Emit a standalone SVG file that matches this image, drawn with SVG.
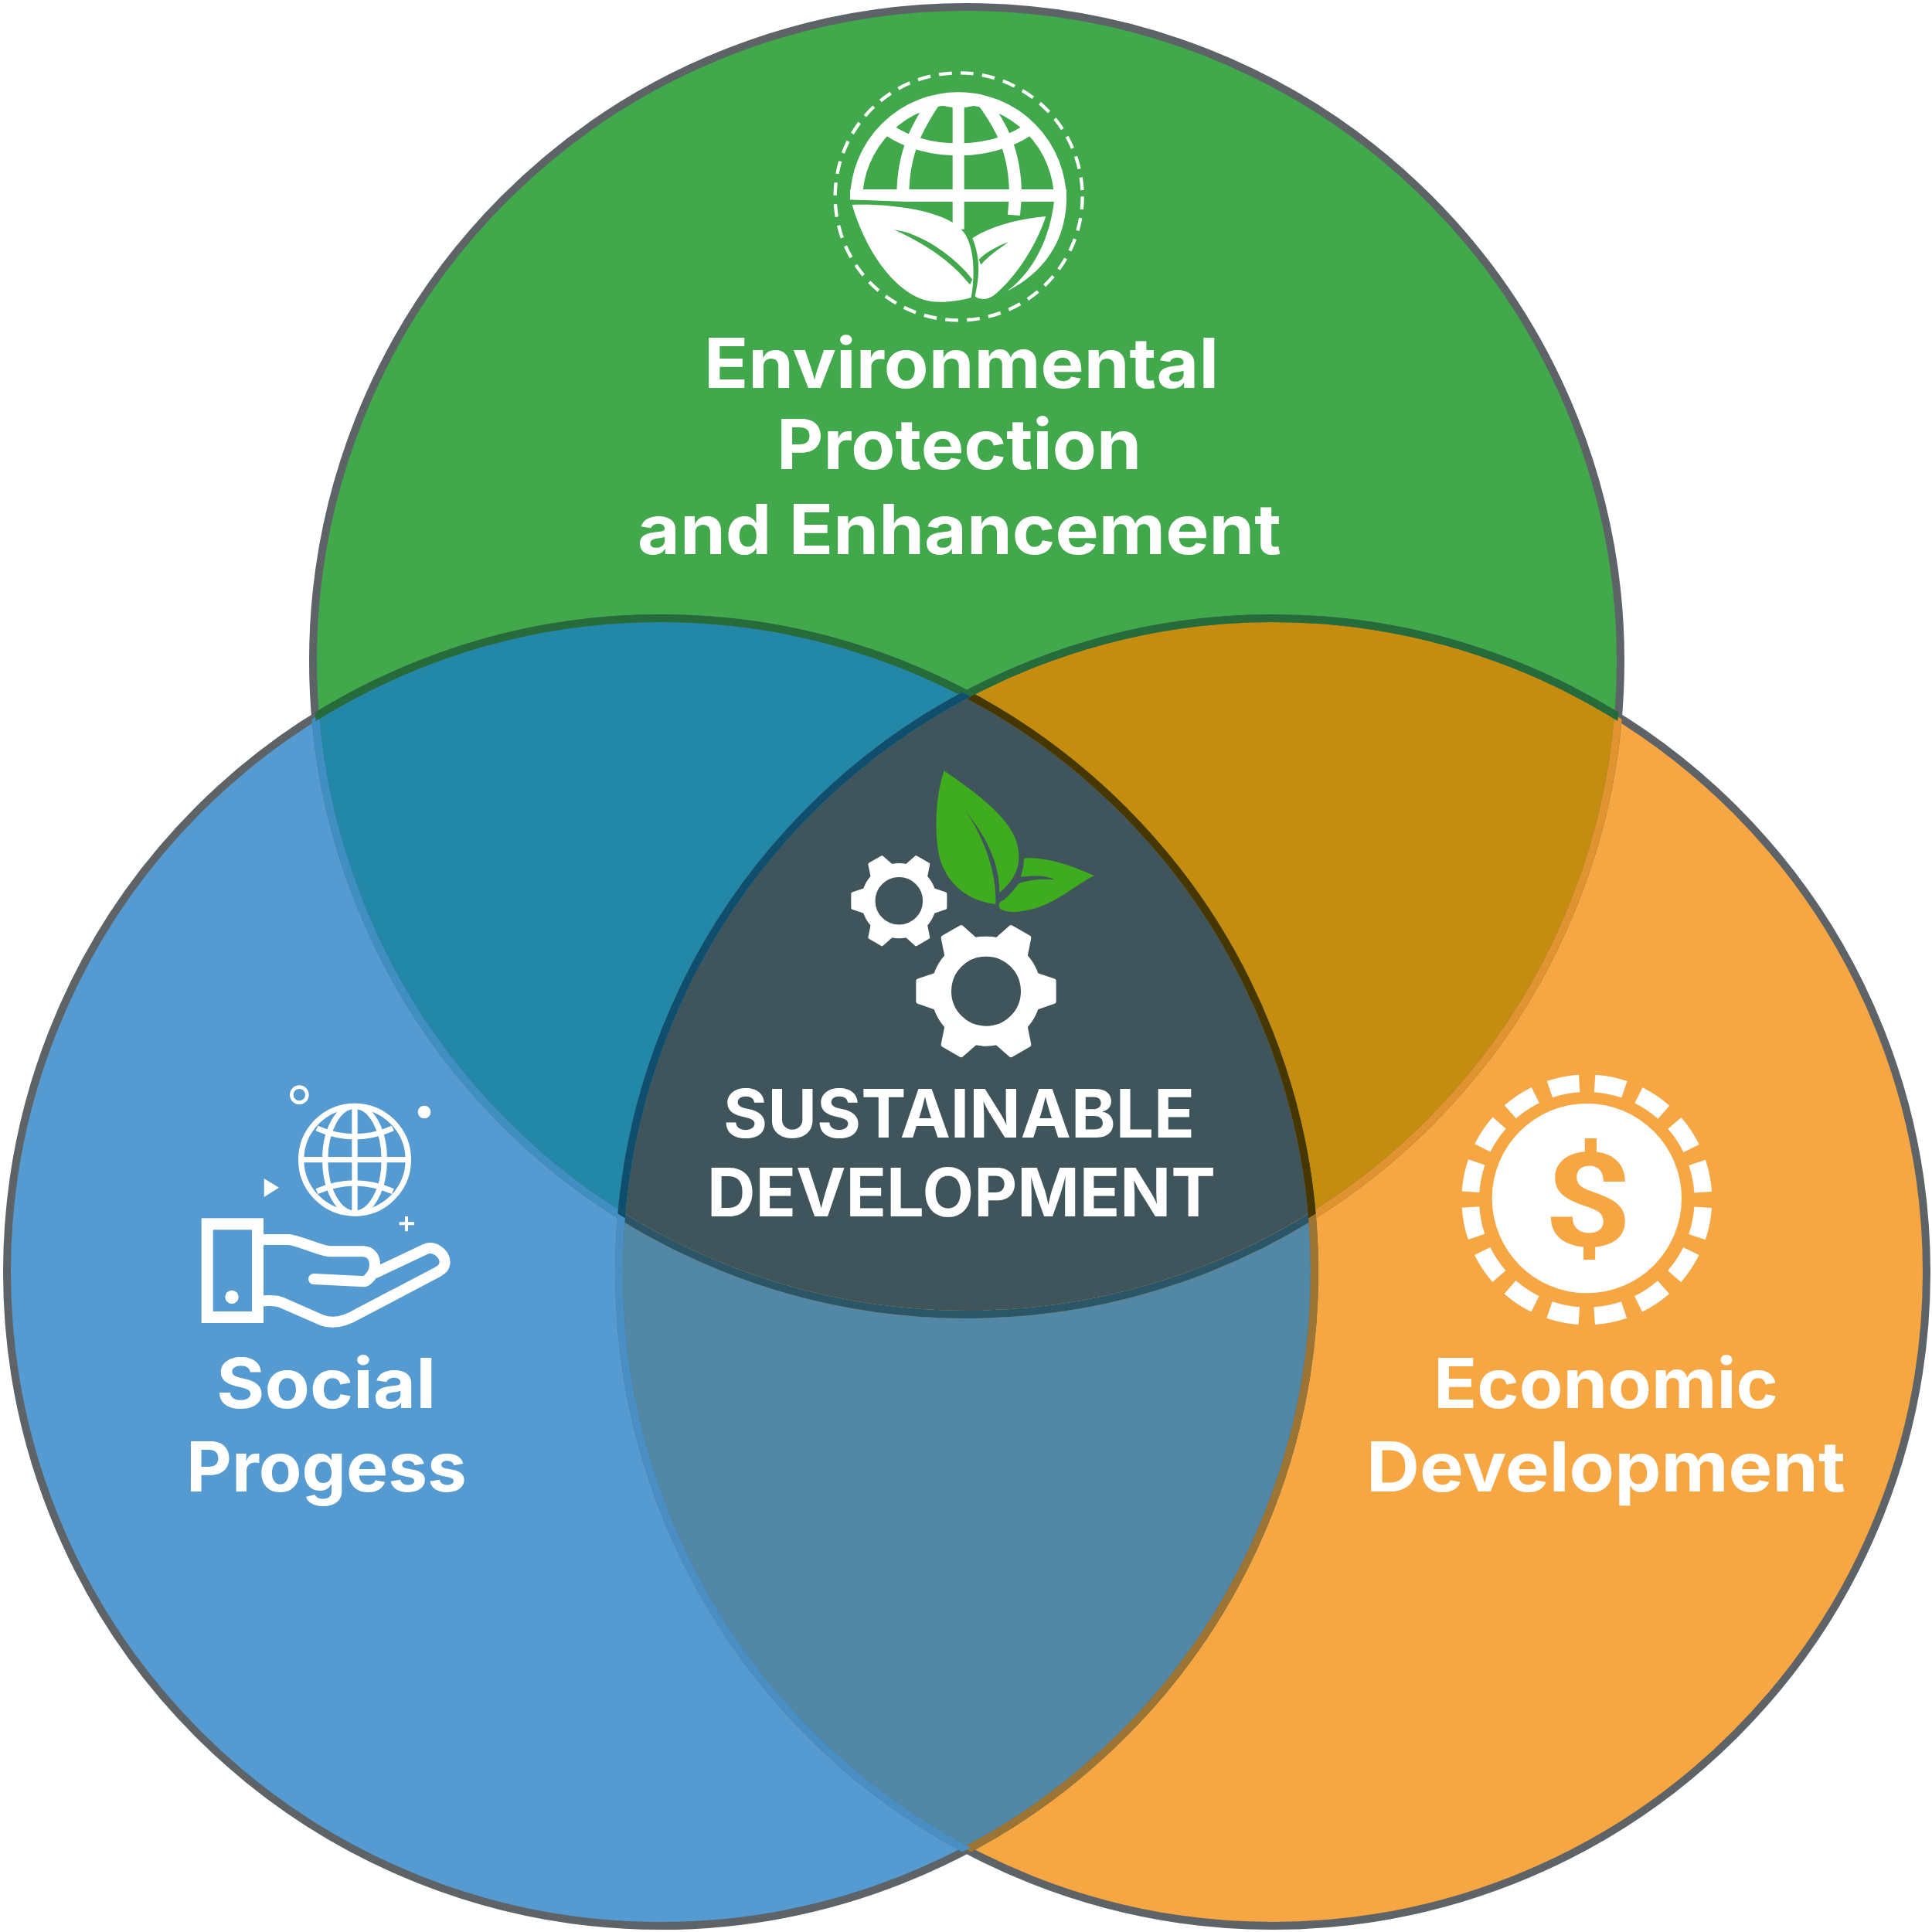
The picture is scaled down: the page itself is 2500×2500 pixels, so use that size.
<svg xmlns="http://www.w3.org/2000/svg" width="2500" height="2500" viewBox="0 0 2500 2500">
<style>
text{font-family:"Inter","Liberation Sans",sans-serif;font-weight:700;fill:#fff}
.t{font-size:89px}
.c{font-size:86px}
.e{fill:none;stroke-width:10}
.w{fill:#fff}
.ws{fill:none;stroke:#fff}
</style>
<defs>
<circle id="cG" cx="1251" cy="855" r="846"/>
<circle id="cB" cx="855" cy="1646" r="846"/>
<circle id="cO" cx="1647" cy="1646" r="846"/>
<clipPath id="inG"><use href="#cG"/></clipPath>
<clipPath id="inB"><use href="#cB"/></clipPath>
<clipPath id="inO"><use href="#cO"/></clipPath>
<g id="gear">
<circle cx="0" cy="0" r="174" fill="none" stroke="#fff" stroke-width="78"/>
<path id="tooth" class="w" stroke="#fff" stroke-width="18" stroke-linejoin="round" d="M198,-62L263,-40L263,40L198,62Z"/>
<use href="#tooth" transform="rotate(60)"/>
<use href="#tooth" transform="rotate(120)"/>
<use href="#tooth" transform="rotate(180)"/>
<use href="#tooth" transform="rotate(240)"/>
<use href="#tooth" transform="rotate(300)"/>
</g>
</defs>

<g id="venn">
<use href="#cB" fill="#559bd1"/>
<use href="#cO" fill="#f6a643"/>
<use href="#cG" fill="#41a84b"/>
<g clip-path="url(#inB)"><use href="#cO" fill="#5287a6"/><use href="#cG" fill="#2387a8"/></g>
<g clip-path="url(#inO)"><use href="#cG" fill="#c48d10"/></g>
<g clip-path="url(#inB)"><g clip-path="url(#inO)"><use href="#cG" fill="#40545c"/></g></g>
</g>

<g id="connectors">
<use href="#cG" class="e" stroke="#5d6366"/>
<use href="#cB" class="e" stroke="#5d6366"/>
<use href="#cO" class="e" stroke="#5d6366"/>
<g clip-path="url(#inB)"><use href="#cG" class="e" stroke="#3f8fc2"/></g>
<g clip-path="url(#inO)"><use href="#cG" class="e" stroke="#e0932e"/></g>
<g clip-path="url(#inB)"><g clip-path="url(#inO)"><use href="#cG" class="e" stroke="#2b5668"/></g></g>
<g clip-path="url(#inG)"><use href="#cB" class="e" stroke="#266c3a"/></g>
<g clip-path="url(#inO)"><use href="#cB" class="e" stroke="#9c7434"/></g>
<g clip-path="url(#inG)"><g clip-path="url(#inO)"><use href="#cB" class="e" stroke="#463600"/></g></g>
<g clip-path="url(#inG)"><use href="#cO" class="e" stroke="#266c3a"/></g>
<g clip-path="url(#inB)"><use href="#cO" class="e" stroke="#4a8fc4"/></g>
<g clip-path="url(#inG)"><g clip-path="url(#inB)"><use href="#cO" class="e" stroke="#0f4e6c"/></g></g>
</g>

<g id="node-environment">
<g transform="translate(1040,60) scale(.33333)">
<circle cx="602" cy="583" r="480" fill="none" stroke="#fff" stroke-width="13" stroke-dasharray="50 34"/>
<path class="ws" stroke-width="48" d="M204,595A396,396 0 1 1 996,600"/>
<path class="w" d="M1020,600C1015,760 930,880 790,950C870,890 950,780 972,602Z"/>
<path class="w" d="M180,555H1020V603H400L180,595Z"/>
<path class="w" d="M505,195H695L690,225L625,238H578L515,225Z"/>
<path d="M330,325C480,425 720,425 870,325" fill="none" stroke="#fff" stroke-width="48"/>
<rect class="w" x="578" y="180" width="45" height="530"/>
<path d="M505,215C450,300 385,400 385,580" fill="none" stroke="#fff" stroke-width="48"/>
<path d="M698,215C760,300 822,400 822,580L816,655" fill="none" stroke="#fff" stroke-width="48"/>
<path d="M188,615C350,610 560,640 620,720C660,770 668,880 650,975C600,990 520,1000 470,985C330,940 230,760 188,615Z" class="w"/>
<path d="M350,712C460,725 590,820 655,905L645,925C570,830 460,760 350,712Z" fill="#41a84b"/>
<path d="M655,745C720,700 830,670 940,660C900,780 820,900 740,965C715,985 680,985 665,970C680,900 690,830 655,745Z" class="w"/>
<path d="M795,760C750,775 700,805 680,828L688,848C715,815 760,785 795,760Z" fill="#41a84b"/>
</g>
<text class="t" x="911" y="502" textLength="666" lengthAdjust="spacingAndGlyphs">Environmental</text>
<text class="t" x="1005" y="607" textLength="472" lengthAdjust="spacingAndGlyphs">Protection</text>
<text class="t" x="825" y="717" textLength="833" lengthAdjust="spacingAndGlyphs">and Enhancement</text>
</g>

<g id="node-center">
<g transform="translate(1060,970) scale(.33333)">
<path fill="#3fab1e" d="M485,82C610,170 775,280 775,410C778,470 745,520 700,555C700,430 640,330 570,240C635,335 690,470 685,600C560,585 475,500 460,380C448,280 455,170 485,82Z"/>
<path fill="#3fab1e" d="M795,422C880,415 980,450 1068,490C1000,520 910,610 800,625C760,635 715,630 700,615C695,600 700,590 715,585C740,565 760,540 775,520C810,505 870,500 915,505C880,488 830,488 782,495C790,470 795,445 795,422Z"/>
<use href="#gear" transform="translate(310,587) scale(.684)"/>
<use href="#gear" transform="translate(648,938)"/>
</g>
<text class="c" x="936" y="1472" textLength="610" lengthAdjust="spacingAndGlyphs">SUSTAINABLE</text>
<text class="c" x="915" y="1574" textLength="658" lengthAdjust="spacingAndGlyphs">DEVELOPMENT</text>
</g>

<g id="node-social">
<g transform="translate(240,1380) scale(.33333)">
<circle cx="442" cy="110" r="30" class="ws" stroke-width="14"/>
<circle cx="927" cy="177" r="25" class="w"/>
<g class="ws" stroke-width="22">
<circle cx="657" cy="362" r="208"/>
<ellipse cx="657" cy="362" rx="115" ry="208"/>
<path d="M657,154V570M449,362H865M510,240Q657,305 805,240M510,485Q657,420 805,485"/>
</g>
<path class="w" d="M305,435L363,470L305,507Z"/>
<path class="ws" stroke-width="12" d="M830,610H888M858,582V640"/>
<rect x="84.500" y="611.500" width="196" height="362" class="ws" stroke-width="45"/>
<circle cx="180" cy="895" r="26" class="w"/>
<g class="ws" stroke-width="42" stroke-linecap="round" stroke-linejoin="round">
<path d="M303,672L400,672C440,675 520,715 560,718L690,718C725,720 735,745 735,770C735,800 715,825 695,835L498,825"/>
<path d="M740,800L930,710C960,695 1005,720 1007,760C1005,785 990,790 975,800L670,960C620,990 570,1000 530,985L370,915C350,908 330,908 303,910"/>
</g>
</g>
<text class="t" x="280" y="1822" textLength="284" lengthAdjust="spacingAndGlyphs">Social</text>
<text class="t" x="241" y="1930" textLength="363" lengthAdjust="spacingAndGlyphs">Progess</text>
</g>

<g id="node-economic">
<g transform="translate(1870,1370) scale(.33333)">
<circle cx="550" cy="547" r="452" fill="none" stroke="#fff" stroke-width="68" stroke-dasharray="117.500 60" stroke-dashoffset="-30"/>
<circle cx="550" cy="542" r="368" class="w"/>
<text transform="translate(555,726) scale(1.18,1)" x="0" y="0" text-anchor="middle" style="font-size:505px;font-weight:700;fill:#f6a643;font-family:Roboto,sans-serif">$</text>
</g>
<text class="t" x="1855" y="1822" textLength="446" lengthAdjust="spacingAndGlyphs">Economic</text>
<text class="t" x="1768" y="1930" textLength="620" lengthAdjust="spacingAndGlyphs">Development</text>
</g>
</svg>
